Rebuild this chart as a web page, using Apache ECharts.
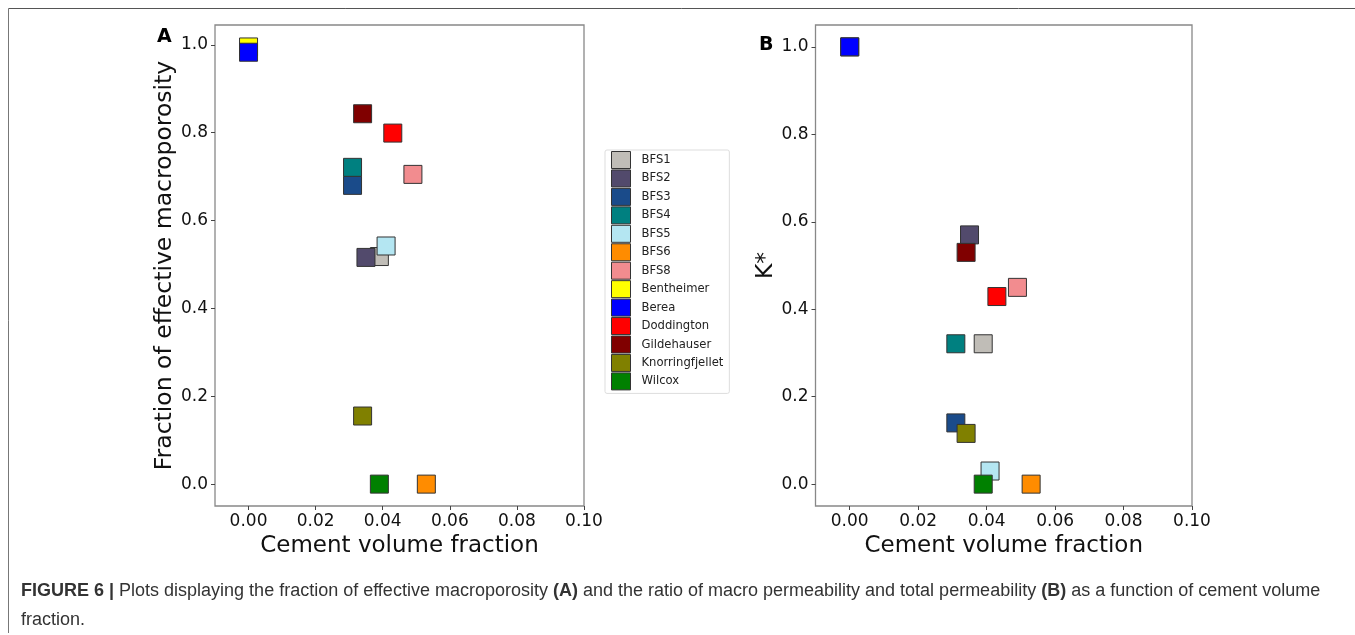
<!DOCTYPE html>
<html>
<head>
<meta charset="utf-8">
<script src="https://cdn.jsdelivr.net/npm/echarts@6/dist/echarts.min.js"></script>
<style>
html,body{margin:0;padding:0;background:#fff;}
#chart{width:1355px;height:635px;}
</style>
</head>
<body>
<div id="chart"></div>
<script>
// ---- data ----
var samples = ['BFS1','BFS2','BFS3','BFS4','BFS5','BFS6','BFS8','Bentheimer','Berea','Doddington','Gildehauser','Knorringfjellet','Wilcox'];
var colors = ['#c0bdb7','#524a6c','#1a4b8a','#008080','#b4e6f2','#ff8c00','#f28c8f','#ffff00','#0000ff','#ff0000','#800000','#808000','#008000'];
var cementFraction = [0.039,0.035,0.031,0.031,0.041,0.053,0.049,0.000,0.000,0.043,0.034,0.034,0.039];
var macroporosityFraction = [0.518,0.516,0.680,0.721,0.542,0.000,0.705,0.995,0.983,0.799,0.843,0.155,0.000];
var kStar = [0.321,0.570,0.140,0.321,0.030,0.000,0.450,1.000,1.000,0.429,0.530,0.116,0.000];
var xTicks = [0.00,0.02,0.04,0.06,0.08,0.10];
var yTicks = [0.0,0.2,0.4,0.6,0.8,1.0];

var chart = echarts.init(document.getElementById('chart'), null, {renderer:'canvas'});
var tickFont = {fontFamily:'DejaVu Sans', fontSize:17, color:'#111'};
function xAxisDef(idx){
  return {
    type:'value', gridIndex:idx, min:-0.01, max:0.10,
    name:'Cement volume fraction', nameLocation:'middle', nameGap:24,
    nameTextStyle:{fontFamily:'DejaVu Sans', fontSize:23, color:'#111'},
    axisLine:{show:false, onZero:false}, splitLine:{show:false},
    axisTick:{show:true, length:4, lineStyle:{color:'#444'}, customValues:xTicks},
    axisLabel:Object.assign({margin:7, customValues:xTicks, formatter:function(v){return v.toFixed(2);}}, tickFont)
  };
}
function yAxisDef(idx, name, min, max, gap){
  return {
    type:'value', gridIndex:idx, min:min, max:max,
    name:name, nameLocation:'middle', nameGap:gap,
    nameTextStyle:{fontFamily:'DejaVu Sans', fontSize:23.5, color:'#111'},
    axisLine:{show:false, onZero:false}, splitLine:{show:false},
    axisTick:{show:true, length:4, lineStyle:{color:'#444'}, customValues:yTicks},
    axisLabel:Object.assign({margin:7, customValues:yTicks, formatter:function(v){return v.toFixed(1);}}, tickFont)
  };
}

var series = [];
samples.forEach(function(s, i){
  var style = {color:colors[i], borderColor:'#333', borderWidth:1, opacity:1};
  series.push({
    name:s, type:'scatter', xAxisIndex:0, yAxisIndex:0, symbol:'rect', symbolSize:18,
    itemStyle:style,
    data:[[cementFraction[i], macroporosityFraction[i]]], animation:false, emphasis:{disabled:true}
  });
  series.push({
    name:s, type:'scatter', xAxisIndex:1, yAxisIndex:1, symbol:'rect', symbolSize:18,
    itemStyle:style,
    data:[[cementFraction[i], kStar[i]]], animation:false, emphasis:{disabled:true}
  });
});

var option = {
  backgroundColor:'#fff',
  animation:false,
  grid:[
    {left:215, top:25, width:369, height:481, show:true, borderColor:'#888', borderWidth:1.3, containLabel:false},
    {left:815.5, top:25, width:376.5, height:481, show:true, borderColor:'#888', borderWidth:1.3, containLabel:false}
  ],
  xAxis:[xAxisDef(0), xAxisDef(1)],
  yAxis:[yAxisDef(0,'Fraction of effective macroporosity',-0.0498,1.045,37), yAxisDef(1,'K*',-0.05,1.05,37)],
  legend:{
    orient:'vertical', left:605, top:150, data:samples, icon:'rect',
    itemWidth:19, itemHeight:17, itemGap:0.45,
    padding:[1,6,3,6], borderColor:'#ddd', borderWidth:1, borderRadius:2,
    itemStyle:{borderColor:'#333', borderWidth:1, opacity:1},
    textStyle:{fontFamily:'DejaVu Sans', fontSize:11.6, color:'#222', padding:[0,0,0,6]},
    selectedMode:false
  },
  graphic:[
    {type:'line', shape:{x1:8.5, y1:8.5, x2:1355, y2:8.5}, style:{stroke:'#555', lineWidth:1}},
    {type:'line', shape:{x1:8.5, y1:8.5, x2:8.5, y2:633}, style:{stroke:'#777', lineWidth:1}},
    {type:'text', left:157, top:28, style:{text:'A', font:'bold 19px "DejaVu Sans"', fill:'#000'}},
    {type:'text', left:759, top:36, style:{text:'B', font:'bold 19px "DejaVu Sans"', fill:'#000'}},
    {type:'text', left:21, top:582, style:{
      text:'{b|FIGURE 6 |} Plots displaying the fraction of effective macroporosity {b|(A)} and the ratio of macro permeability and total permeability {b|(B)} as a function of cement volume',
      font:'18px "Liberation Sans"', fill:'#333',
      rich:{b:{fontWeight:'bold', fontFamily:'Liberation Sans', fontSize:18, fill:'#333'}}
    }},
    {type:'text', left:21, top:611, style:{text:'fraction.', font:'18px "Liberation Sans"', fill:'#333'}}
  ],
  series:series
};
chart.setOption(option);
</script>
</body>
</html>
